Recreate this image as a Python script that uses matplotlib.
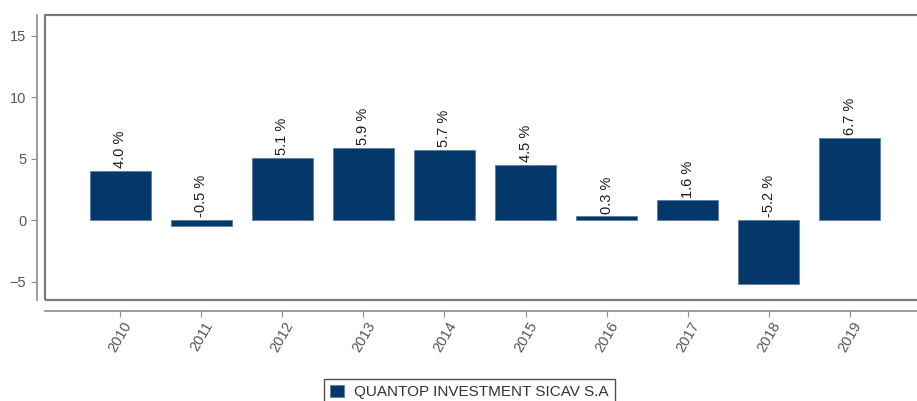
import numpy as np
import matplotlib
matplotlib.use('Agg')
import matplotlib.pyplot as plt
from matplotlib.patches import Rectangle

plt.rcParams['font.family'] = ['Liberation Sans', 'DejaVu Sans']

years = ['2010', '2011', '2012', '2013', '2014', '2015', '2016', '2017', '2018', '2019']
returns = [4.0, -0.5, 5.1, 5.9, 5.7, 4.5, 0.3, 1.6, -5.2, 6.7]
series_name = 'QUANTOP INVESTMENT SICAV S.A'
y_ticks = [-5, 0, 5, 10, 15]

bar_color = '#04386a'
axis_gray = '#8a8a8a'
text_gray = '#555555'

fig = plt.figure(figsize=(9.17, 4.01), dpi=100)
# the plot box runs a bit past the right edge of the picture, as in the original
ax = fig.add_axes([45 / 917, 1 - 300 / 401, 880 / 917, 285 / 401])

x = np.arange(len(years))
bars = ax.bar(x, returns, width=0.75, color=bar_color, edgecolor='#5a7fa3',
              linewidth=0.6, label=series_name, zorder=2)

for xi, v in zip(x, returns):
    ax.annotate('%.1f %%' % v, (xi, max(v, 0)), xytext=(0, 2),
                textcoords='offset points', rotation=90, ha='center',
                va='bottom', fontsize=10.5, color='#1a1a1a')

ax.set_xlim(-0.93, 9.93)
ax.set_ylim(-6.5, 16.7)
ax.set_yticks(y_ticks)
ax.set_xticks(x)
ax.set_xticklabels(years)

# box around the plot area
ax.add_patch(Rectangle((0, 0), 1, 1, transform=ax.transAxes, fill=False,
                       edgecolor='#7a7a7a', linewidth=1.6, clip_on=False,
                       zorder=3))

# detached axis lines
for side in ['top', 'right']:
    ax.spines[side].set_visible(False)
ax.spines['left'].set_position(('outward', 6))
ax.spines['bottom'].set_position(('outward', 8))
ax.spines['left'].set_color(axis_gray)
ax.spines['bottom'].set_color(axis_gray)
ax.spines['left'].set_linewidth(1.2)
ax.spines['bottom'].set_linewidth(1.2)
ax.tick_params(axis='both', colors=axis_gray, labelcolor=text_gray,
               labelsize=10.5, length=4, width=0.8)
ax.tick_params(axis='x', labelrotation=60, pad=2)
for lbl in ax.get_xticklabels():
    lbl.set_ha('center')
    lbl.set_va('top')

fig.legend(loc='upper center', bbox_to_anchor=(0.512, 0.075), ncol=1,
           fontsize=11, frameon=True, fancybox=False, edgecolor='#222222',
           handlelength=0.9, handleheight=0.9, labelcolor='#333333',
           borderpad=0.4, handletextpad=0.7)

fig.savefig('out.png', dpi=100)
